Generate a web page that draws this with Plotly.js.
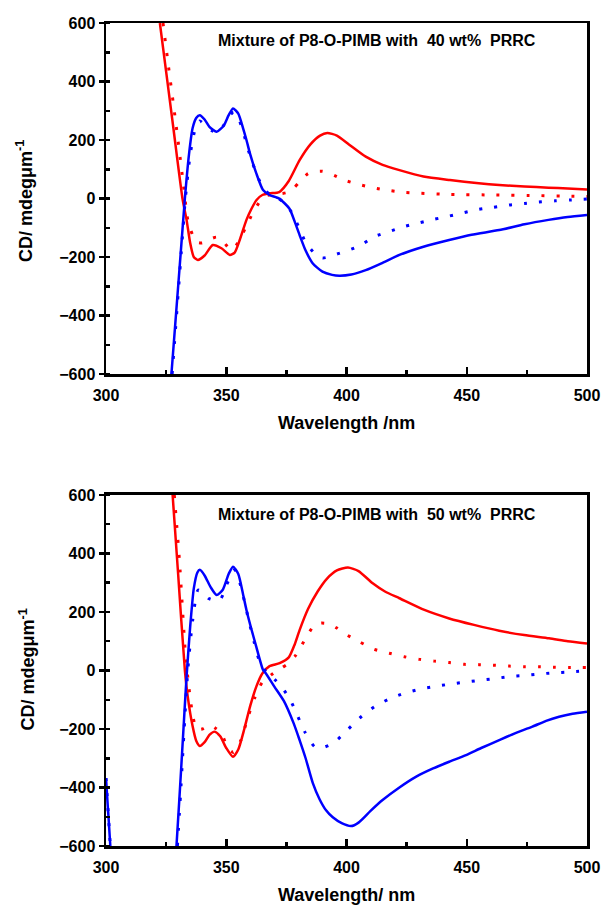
<!DOCTYPE html>
<html>
<head>
<meta charset="utf-8">
<script src="https://cdn.plot.ly/plotly-3.0.1.min.js"></script>
<style>html,body{margin:0;padding:0;background:#fff;}#chart{width:603px;height:905px;}</style>
</head>
<body>
<div id="chart"></div>
<script>
// ---- Panel 1: 40 wt% PRRC ----
const rs40_x = [322.4, 325, 328, 331.8, 333.5, 335, 336.5, 338.2, 341, 344.4, 348, 351.5, 353.5, 355.6, 358.4, 360.5, 362.6, 365, 368, 372, 376, 380.5, 385, 389, 392, 396, 401, 408, 415, 422, 432, 443, 455, 463.5, 474, 484, 492, 500];
const rs40_y = [600, 434, 242, 0, -73, -152, -200, -210, -195, -159, -170, -193, -185, -142, -73, -35, -5, 12, 18, 22, 60, 131, 185, 215, 224, 215, 185, 143, 115, 97, 75, 63, 52, 46, 41, 37, 34, 31];

const rd40_x = [323.7, 326, 329, 332, 334, 336, 338, 340, 343, 346, 349, 352, 355, 358, 361, 364, 367, 371, 375, 378, 380.5, 384, 387, 390, 393, 396, 399, 405, 411, 418, 424, 430.7, 443, 461, 480, 492.5, 500];
const rd40_y = [600, 450, 260, 60, -73, -125, -150, -152, -140, -132, -150, -176, -150, -100, -50, -10, 10, 15, 20, 35, 57, 85, 92, 93, 86, 75, 63, 48, 37, 27, 21, 18, 14, 12, 10, 8, 7];

const bs40_x = [327.2, 329, 331, 332.8, 334.5, 336, 337.5, 339, 341, 343, 346, 349, 351, 352.8, 355, 357, 358.4, 360, 362.5, 365.3, 368, 372, 376.3, 378.5, 380.5, 383, 386, 390, 394, 397, 402, 408, 415, 422, 432, 442.7, 452, 463.5, 474, 484, 492, 500];
const bs40_y = [-600, -407, -193, 0, 150, 240, 275, 285, 270, 245, 228, 250, 285, 308, 290, 240, 200, 150, 86, 29, 12, 0, -35, -80, -125, -178, -222, -250, -261, -264, -260, -245, -220, -193, -165, -142, -124, -108, -88, -73, -63, -56];

const bd40_x = [327.5, 329.5, 331.5, 333, 335, 337, 339, 341.8, 344, 346, 348.5, 351, 353, 355, 357, 359, 361, 363, 365.5, 368, 371, 374, 377, 380, 383, 386.7, 390, 393, 396, 399, 405.4, 411.6, 417.8, 424, 430.3, 436.5, 442.7, 449, 455, 461, 467.6, 474, 480, 486.7, 493, 500];
const bd40_y = [-600, -380, -160, 0, 150, 235, 265, 245, 232, 225, 245, 280, 295, 275, 230, 170, 120, 75, 35, 15, 5, -15, -45, -95, -150, -187, -203, -199, -190, -182, -162, -130, -113, -96, -83, -71, -60, -48, -37, -30, -22, -17, -12, -8, -5, -2];

// ---- Panel 2: 50 wt% PRRC ----
const rs50_x = [327.7, 330, 332.8, 334, 336, 337.5, 339, 341, 343, 345.2, 347.5, 350, 352.8, 355, 357.5, 360, 362.5, 365, 368, 372.2, 376, 378.5, 380.5, 384, 388, 392, 396, 400.6, 405, 410.9, 416, 422, 432.4, 442.7, 453, 463.5, 473.9, 484.2, 492, 500];
const rs50_y = [600, 329, 0, -90, -190, -240, -258, -245, -220, -209, -225, -265, -295, -270, -200, -120, -55, -10, 15, 25, 45, 90, 138, 210, 270, 315, 342, 352, 340, 298, 270, 247, 207, 178, 156, 136, 121, 110, 100, 92];

const rd50_x = [328.4, 330.5, 333, 334.5, 336, 337.6, 340, 343.2, 346, 348, 350.7, 353, 356, 359, 362, 365, 368.7, 372.9, 376, 379, 383, 386.7, 389.5, 392.9, 396, 399, 405.4, 411.6, 417.8, 424, 430.3, 436.5, 442.7, 449, 455, 461, 467.6, 474, 480, 486, 493, 500];
const rd50_y = [600, 380, 60, -60, -150, -200, -200, -186, -200, -215, -266, -280, -240, -160, -90, -40, -15, 8, 25, 53, 110, 156, 162, 159, 145, 127, 98, 72, 59, 47, 38, 32, 27, 21, 20, 18, 15, 13, 13, 11, 10, 10];

const bs50_x = [300, 301.8, null, 329.3, 330.5, 332, 333.5, 335, 336.5, 338, 339, 341, 343.5, 346, 348.5, 351, 352.8, 355, 357, 358.4, 360.5, 362.5, 365.3, 366.5, 370, 374, 378, 380.5, 383, 386, 388.8, 391.5, 394.3, 398, 401.9, 405, 410, 415, 422, 429, 436, 442.7, 449.7, 456, 463.5, 470, 477.3, 483, 488.4, 494, 500];
const bs50_y = [-368, -600, null, -600, -440, -230, -21, 150, 280, 335, 344, 325, 285, 258, 275, 330, 355, 330, 260, 207, 140, 81, 2, -10, -55, -105, -180, -238, -300, -385, -440, -478, -502, -522, -532, -520, -480, -443, -400, -363, -335, -312, -289, -265, -238, -215, -192, -172, -158, -148, -141];

const bd50_x = [300, 301.8, null, 329.7, 331, 332.5, 334, 336, 338.3, 340.5, 342.5, 345, 347.3, 349, 350.1, 352, 353.5, 356, 359, 361.5, 363.9, 367, 370, 373, 377, 379.8, 382.6, 386.7, 389.5, 392.9, 396, 399.2, 405.4, 411.6, 417.8, 424, 430.3, 436.5, 442.7, 449, 455, 461.4, 467.6, 474, 480, 486, 493, 500];
const bd50_y = [-368, -600, null, -600, -420, -200, 0, 170, 275, 265, 247, 240, 241, 265, 292, 325, 344, 290, 184, 100, 30, -10, -30, -55, -107, -158, -209, -260, -265, -255, -238, -213, -163, -124, -97, -78, -64, -55, -47, -40, -34, -28, -21, -17, -12, -8, -5, -1];

const titles = ['Mixture of P8-O-PIMB with\u00a0 40 wt%\u00a0 PRRC', 'Mixture of P8-O-PIMB with\u00a0 50 wt%\u00a0 PRRC'];
const xTitles = ['Wavelength /nm', 'Wavelength/ nm'];
const yTitle = 'CD/ mdegμm<sup>-1</sup>';

const RED = '#ff0000', BLUE = '#0000ff';
const FONT = 'Liberation Sans, Arial, sans-serif';

function solid(x, y, c, ax) {
  return {x: x, y: y, type: 'scatter', mode: 'lines', line: {color: c, width: 2.5, shape: 'spline', smoothing: 0.6}, xaxis: 'x' + ax, yaxis: 'y' + ax, connectgaps: false, hoverinfo: 'skip'};
}
function dotted(x, y, c, ax) {
  return {x: x, y: y, type: 'scatter', mode: 'lines', line: {color: c, width: 3, dash: '3px,12px', shape: 'spline', smoothing: 0.6}, xaxis: 'x' + ax, yaxis: 'y' + ax, connectgaps: false, hoverinfo: 'skip'};
}

const data = [
  solid(rs40_x, rs40_y, RED, ''), dotted(rd40_x, rd40_y, RED, ''),
  solid(bs40_x, bs40_y, BLUE, ''), dotted(bd40_x, bd40_y, BLUE, ''),
  solid(rs50_x, rs50_y, RED, '2'), dotted(rd50_x, rd50_y, RED, '2'),
  solid(bs50_x, bs50_y, BLUE, '2'), dotted(bd50_x, bd50_y, BLUE, '2')
];

const tickfont = {family: FONT, size: 16, color: '#000', weight: 'bold'};
function xax(anchor) {
  return {anchor: anchor, range: [300, 500], tick0: 300, dtick: 50, ticks: 'inside', ticklen: 7, tickwidth: 2.5, tickcolor: '#000',
    showline: true, linewidth: 2.5, linecolor: '#000', mirror: true, showgrid: false, zeroline: false, tickfont: tickfont,
    ticklabelstandoff: 5, minor: {dtick: 25, ticks: 'inside', ticklen: 4, tickwidth: 2.5, tickcolor: '#000', showgrid: false}};
}
function yax(anchor, domain) {
  return {anchor: anchor, domain: domain, range: [-600, 600], tick0: 0, dtick: 200, ticks: 'outside', ticklen: 5, tickwidth: 2.5, tickcolor: '#000',
    showline: true, linewidth: 2.5, linecolor: '#000', mirror: true, showgrid: false, zeroline: false, tickfont: tickfont,
    minor: {dtick: 100, ticks: 'inside', ticklen: 4, tickwidth: 2.5, tickcolor: '#000', showgrid: false}};
}

const annFont = {family: FONT, size: 18, color: '#000', weight: 'bold'};
const annotations = [
  {text: titles[0], xref: 'paper', yref: 'paper', x: 0.563, y: 0.979, xanchor: 'center', yanchor: 'middle', showarrow: false, font: {family: FONT, size: 16, color: '#000', weight: 'bold'}},
  {text: titles[1], xref: 'paper', yref: 'paper', x: 0.563, y: 0.403, xanchor: 'center', yanchor: 'middle', showarrow: false, font: {family: FONT, size: 16, color: '#000', weight: 'bold'}},
  {text: xTitles[0], xref: 'paper', yref: 'paper', x: 0.5, y: 0.514, xanchor: 'center', yanchor: 'middle', showarrow: false, font: annFont},
  {text: xTitles[1], xref: 'paper', yref: 'paper', x: 0.5, y: -0.06, xanchor: 'center', yanchor: 'middle', showarrow: false, font: annFont},
  {text: yTitle, xref: 'paper', yref: 'paper', x: -0.168, y: 0.784, xanchor: 'center', yanchor: 'middle', textangle: -90, showarrow: false, font: annFont},
  {text: yTitle, xref: 'paper', yref: 'paper', x: -0.163, y: 0.214, xanchor: 'center', yanchor: 'middle', textangle: -90, showarrow: false, font: annFont}
];

const layout = {
  width: 603, height: 905,
  margin: {l: 106, r: 16, t: 23, b: 59},
  paper_bgcolor: '#fff', plot_bgcolor: '#fff',
  showlegend: false,
  xaxis: xax('y'), yaxis: yax('x', [0.5735, 1]),
  xaxis2: xax('y2'), yaxis2: yax('x2', [0, 0.4265]),
  annotations: annotations
};

Plotly.newPlot('chart', data, layout, {staticPlot: true});
</script>
</body>
</html>
